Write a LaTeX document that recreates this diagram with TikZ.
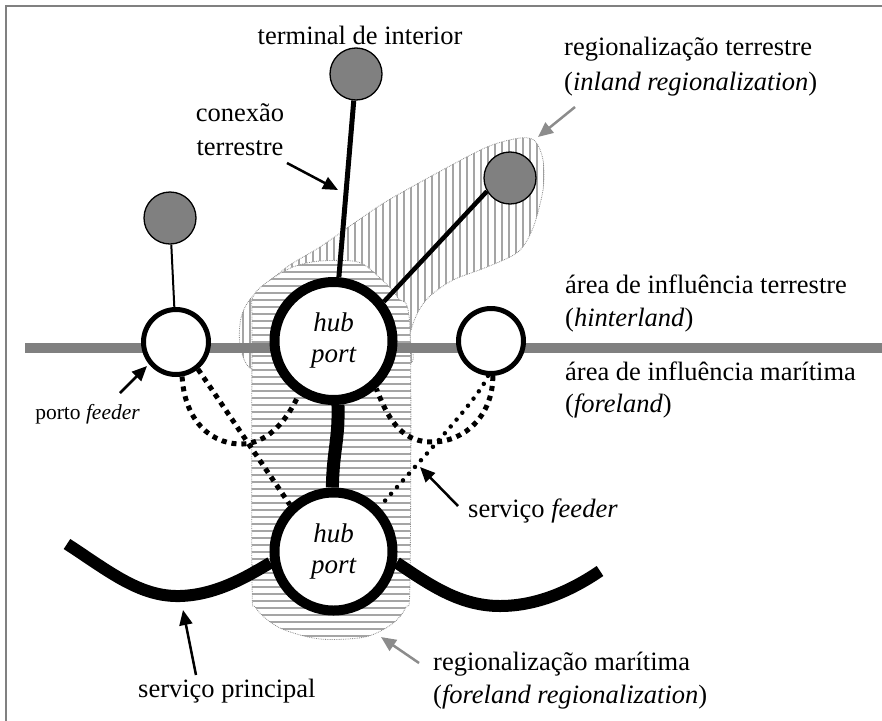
\documentclass[tikz,border=0pt]{standalone}
\usepackage{fontspec}
\setmainfont{Liberation Serif}
\usetikzlibrary{arrows.meta}
\pgfdeclarelayer{background}
\pgfsetlayers{background,main}
\definecolor{gray50}{RGB}{128,128,128}
\definecolor{hatchgray}{RGB}{165,165,165}
\definecolor{bordergray}{RGB}{140,140,140}
\definecolor{arrowgray}{RGB}{140,140,140}
\definecolor{framegray}{RGB}{128,128,128}
\begin{document}
\begin{tikzpicture}[x=1pt,y=-1pt,
  lbl/.style={inner sep=0pt, font=\fontsize{26.5}{32}\selectfont},
  smalllbl/.style={inner sep=0pt, font=\fontsize{21.5}{26}\selectfont},
  hubc/.style={circle, draw, line width=10pt, fill=white, minimum size=118pt, inner sep=0pt, align=center, font=\fontsize{27}{31}\selectfont\itshape},
  feedc/.style={circle, draw, line width=5pt, fill=white, minimum size=65pt, inner sep=0pt},
  inlc/.style={circle, draw, line width=1.3pt, fill=gray50, minimum size=52pt, inner sep=0pt},
  arr/.style={line width=2.5pt, -{Triangle[length=15pt,width=13pt]}},
  garr/.style={arr, draw=arrowgray, fill=arrowgray},
  sqdot/.style={line width=5pt, dash pattern=on 5pt off 5pt},
  rddot/.style={line width=4.5pt, line cap=round, dash pattern=on 0pt off 9pt},
  hatch/.style={draw=hatchgray, line width=2pt},
  regborder/.style={draw=bordergray, line width=0.8pt, densely dotted},
]
\useasboundingbox (0,0) rectangle (882,720);
\clip (0,0) rectangle (882,720);

% nodes
\node[hubc] (ht) at (333.5,341) {hub\\port};
\node[hubc] (hb) at (333.5,551.5) {hub\\port};
\node[feedc] (lf) at (176,342) {};
\node[feedc] (rf) at (491,341) {};
\node[inlc] (tg) at (356,74) {};
\node[inlc] (rg) at (510,178) {};
\node[inlc] (lg) at (170,218) {};

\coordinate (ms1) at (67,544);
\coordinate (ms2) at (600,571);

\begin{pgfonlayer}{background}
  % frame
  \draw[framegray, line width=2pt] (6,6) rectangle (900,740);
  % inland regionalization
  \begin{scope}
    \clip plot[smooth cycle] coordinates {(250,368) (240,345) (241,318) (252,297) (287,267) (320,247) (360,219) (387,201) (437,173) (487,147) (520,138) (535,141) (543,160) (543,190) (533,228) (518,252) (487,267) (453,280) (430,296) (418,312) (410,335) (412,362) (380,372) (280,372)};
    \foreach \xx in {236,243,...,550} \draw[hatch] (\xx,120) -- (\xx,390);
  \end{scope}
  \draw[regborder] plot[smooth cycle] coordinates {(250,368) (240,345) (241,318) (252,297) (287,267) (320,247) (360,219) (387,201) (437,173) (487,147) (520,138) (535,141) (543,160) (543,190) (533,228) (518,252) (487,267) (453,280) (430,296) (418,312) (410,335) (412,362) (380,372) (280,372)};
  % maritime regionalization
  \fill[white] plot[smooth cycle] coordinates {(253,297) (270,280) (293,267) (320,261) (358,262) (380,278) (398,298) (410,330) (410,580) (406,607) (392,624) (365,637) (320,639) (280,628) (256,608) (252,580) (252,330)};
  \begin{scope}
    \clip plot[smooth cycle] coordinates {(253,297) (270,280) (293,267) (320,261) (358,262) (380,278) (398,298) (410,330) (410,580) (406,607) (392,624) (365,637) (320,639) (280,628) (256,608) (252,580) (252,330)};
    \foreach \yy in {258,265,...,645} \draw[hatch] (240,\yy) -- (420,\yy);
  \end{scope}
  \draw[regborder] plot[smooth cycle] coordinates {(253,297) (270,280) (293,267) (320,261) (358,262) (380,278) (398,298) (410,330) (410,580) (406,607) (392,624) (365,637) (320,639) (280,628) (256,608) (252,580) (252,330)};
  % land/sea divide
  \draw[gray50, line width=10pt] (25,348) -- (890,348);
  % land connections
  \draw[line width=5pt] (tg) -- (ht);
  \draw[line width=4.5pt] (rg.210) -- (ht.38);
  \draw[line width=2pt] (lg) -- (lf);
  % feeder services
  \draw[sqdot] (lf.-80) .. controls (185,425) and (215,445) .. (243,444) .. controls (265,443) and (285,425) .. (ht.237);
  \draw[sqdot] (lf.-51) -- (hb.133);
  \draw[sqdot] (rf.-87) .. controls (493,415) and (465,442) .. (432,442) .. controls (405,442) and (390,425) .. (ht.-48);
  \draw[rddot] (rf.-95) .. controls (478,400) and (420,460) .. (hb.44);
  % main service
  \draw[line width=12pt] (ms1) .. controls (110,572) and (140,597) .. (180,596) .. controls (215,595) and (245,578) .. (hb.190);
  \draw[line width=12pt] (hb.-10) .. controls (430,585) and (460,606) .. (500,606) .. controls (540,606) and (575,588) .. (ms2);
  % hub to hub
  \draw[line width=13pt] (ht.-86) .. controls (339,440) and (333,450) .. (hb.91);
\end{pgfonlayer}

% labels
\node[lbl, anchor=base] (tterm) at (360,44) {terminal de interior};
\node[lbl, anchor=base west] (tinl1) at (564,55) {regionalização terrestre};
\node[lbl, anchor=base west] (tinl2) at (564,90) {(\textit{inland regionalization})};
\node[lbl, anchor=base] (tcon1) at (240,121) {conexão};
\node[lbl, anchor=base] (tcon2) at (240,155) {terrestre};
\node[lbl, anchor=base west] (thin1) at (565,293) {área de influência terrestre};
\node[lbl, anchor=base west] (thin2) at (565,326) {(\textit{hinterland})};
\node[lbl, anchor=base west] (tfor1) at (565,380) {área de influência marítima};
\node[lbl, anchor=base west] (tfor2) at (565,412) {(\textit{foreland})};
\node[smalllbl, anchor=base east] (tpf) at (140,419) {porto \textit{feeder}};
\node[lbl, anchor=base west] (tsf) at (468,517) {serviço \textit{feeder}};
\node[lbl, anchor=base west] (tsp) at (138,697) {serviço principal};
\node[lbl, anchor=base west] (tmar1) at (433,670) {regionalização marítima};
\node[lbl, anchor=base west] (tmar2) at (433,703) {(\textit{foreland regionalization})};

% arrows
\coordinate (a1t) at (287,163); \coordinate (a1h) at (338,190);
\coordinate (a2t) at (120,393); \coordinate (a2h) at (147,366);
\coordinate (a3t) at (458,506); \coordinate (a3h) at (420,467);
\coordinate (a4t) at (196,675); \coordinate (a4h) at (183,610);
\coordinate (a5t) at (575,107); \coordinate (a5h) at (538,137);
\coordinate (a6t) at (419,663); \coordinate (a6h) at (381,637);
\draw[arr] (a1t) -- (a1h);
\draw[arr] (a2t) -- (a2h);
\draw[arr] (a3t) -- (a3h);
\draw[arr] (a4t) -- (a4h);
\draw[garr] (a5t) -- (a5h);
\draw[garr] (a6t) -- (a6h);
\end{tikzpicture}
\end{document}
